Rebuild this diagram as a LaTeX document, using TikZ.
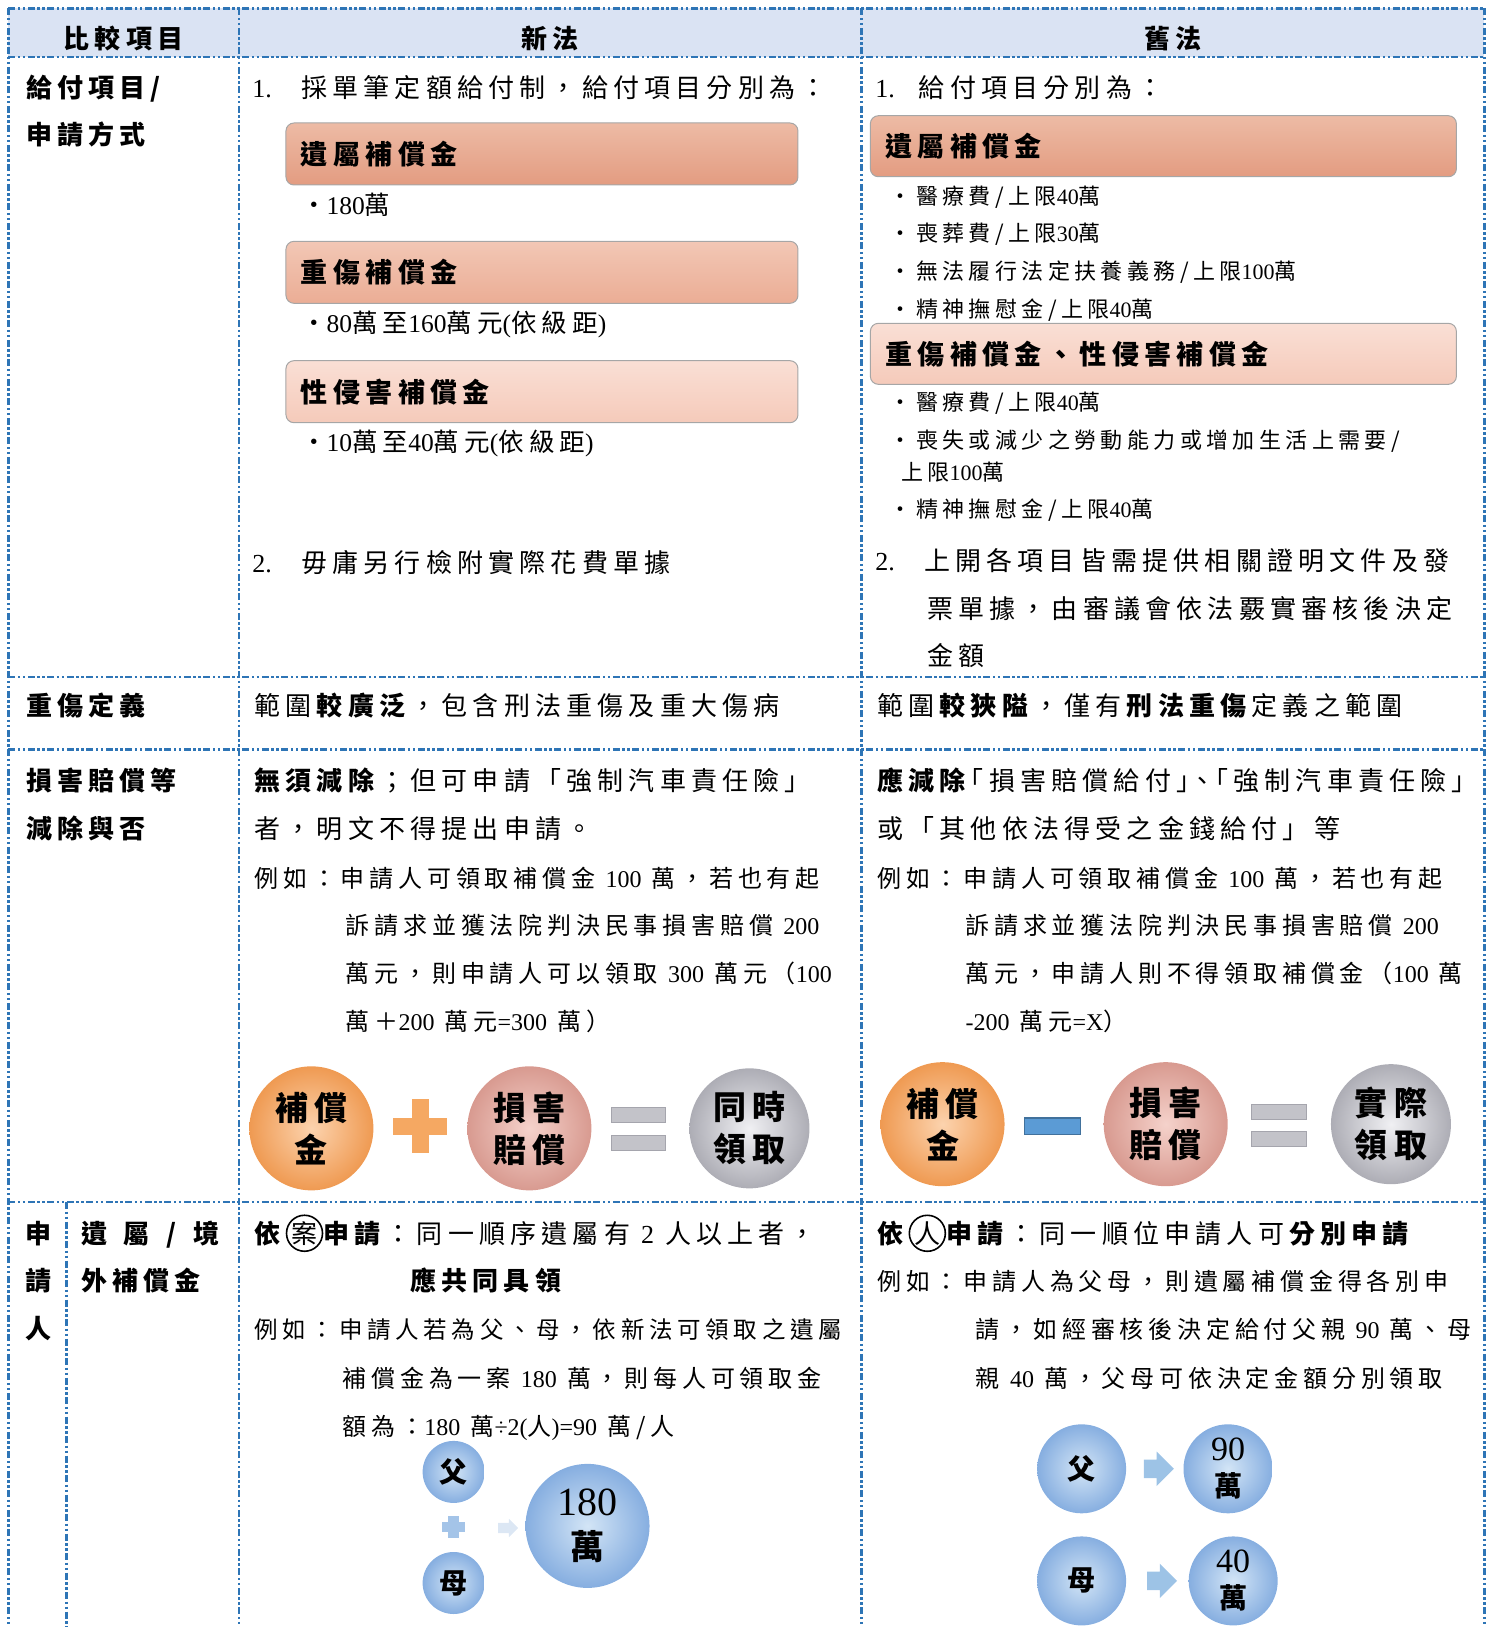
\documentclass[tikz,border=0pt]{standalone}
\usepackage{fontspec}
\setmainfont{Noto Sans CJK TC}[LetterSpace=20]
\newfontfamily\numfont{Liberation Serif}
\usepackage{tikz}
\usetikzlibrary{positioning,shapes.arrows}
\definecolor{gridblue}{HTML}{2E75B6}
\definecolor{headfill}{HTML}{DAE3F3}
\definecolor{boxline}{HTML}{A6A6A6}
\definecolor{salmonA}{HTML}{E39C81}
\definecolor{salmonAt}{HTML}{EDBBA5}
\definecolor{salmonB}{HTML}{EBAD95}
\definecolor{salmonBt}{HTML}{F2C7B5}
\definecolor{salmonC}{HTML}{F5CABA}
\definecolor{salmonCt}{HTML}{FADFD5}
\definecolor{ballorange}{HTML}{EF9A52}
\definecolor{ballorangein}{HTML}{FCD3AE}
\definecolor{ballpink}{HTML}{D89A90}
\definecolor{ballpinkin}{HTML}{F5D2CB}
\definecolor{ballgray}{HTML}{ADADB5}
\definecolor{ballgrayin}{HTML}{F0F0F3}
\definecolor{ballblue}{HTML}{86AEE0}
\definecolor{ballbluein}{HTML}{D3E5F6}
\definecolor{plusorange}{HTML}{F5A862}
\definecolor{eqgray}{HTML}{C3C3C9}
\definecolor{eqedge}{HTML}{A5A5AD}
\definecolor{minusblue}{HTML}{5B9BD5}
\definecolor{minusedge}{HTML}{41719C}
\definecolor{arrowblue}{HTML}{9DC3E6}
\definecolor{paleblue}{HTML}{DCE7F4}
\definecolor{plusblue}{HTML}{A4C4E8}

\newcommand\nm[1]{{\numfont #1}}
\newcommand\quan[1]{\tikz[baseline=(q.base)]\node (q) [circle, draw, line width=1.6pt, inner sep=0pt, minimum size=36pt] {#1};}

\tikzstyle{gridline} = [draw=gridblue, line width=2.4pt, dash pattern=on 7pt off 2.5pt on 2.5pt off 2.5pt on 2.5pt off 2.5pt]
\tikzstyle{txt} = [anchor=west, inner sep=0pt, text height=22pt, text depth=2pt, font=\fontsize{26}{30}\selectfont]
\tikzstyle{btxt} = [txt, font=\fontsize{26}{30}\selectfont\bfseries]
\tikzstyle{stxt} = [txt, font=\fontsize{24}{28}\selectfont]
\tikzstyle{bullet} = [txt, font=\fontsize{25.5}{28}\selectfont]
\tikzstyle{sbullet} = [txt, font=\fontsize{22}{26}\selectfont]
\tikzstyle{htxt} = [inner sep=0pt, text height=22pt, text depth=2pt, font=\fontsize{26}{30}\selectfont\bfseries]
\tikzstyle{itembox} = [rectangle, rounded corners=8pt, draw=boxline, line width=1pt, anchor=north west, inner xsep=15pt, align=left, font=\fontsize{27}{30}\selectfont\bfseries]
\tikzstyle{ball} = [circle, inner sep=0pt, align=center, font=\fontsize{33}{42}\selectfont\bfseries]
\tikzstyle{orangeball} = [ball, inner color=ballorangein, outer color=ballorange, minimum size=124pt]
\tikzstyle{pinkball} = [ball, inner color=ballpinkin, outer color=ballpink, minimum size=124pt]
\tikzstyle{grayball} = [ball, inner color=ballgrayin, outer color=ballgray, minimum size=120pt]
\tikzstyle{blueball} = [ball, inner color=ballbluein, outer color=ballblue, font=\fontsize{28}{36}\selectfont\bfseries]
\tikzstyle{blockarrow} = [single arrow, inner xsep=0pt, inner ysep=9pt, minimum height=30pt, single arrow head extend=8pt]

\begin{document}
\begin{tikzpicture}[x=1.038pt, y=-1.038pt]
\useasboundingbox (0,0) rectangle (1436.4,1567.4);
% header band and grid
\fill[headfill] (8,8) rectangle (1430,55);
\draw[gridline] (8,8) -- (1430,8);
\draw[gridline] (8,55) -- (1430,55);
\draw[gridline] (8,652) -- (1430,652);
\draw[gridline] (8,722) -- (1430,722);
\draw[gridline] (8,1158) -- (1430,1158);
\draw[gridline] (8,8) -- (8,1567.4);
\draw[gridline] (230,8) -- (230,1567.4);
\draw[gridline] (830,8) -- (830,1567.4);
\draw[gridline] (1430,8) -- (1430,1567.4);
\draw[gridline] (64,1158) -- (64,1567.4);

\node (hitem) [htxt] at (119,37) {比較項目};
\node (hnew) [htxt] at (530,37) {新法};
\node (hold) [htxt] at (1130,37) {舊法};

% row 1
\node (r1a) [btxt] at (25,84) {給付項目/};
\node (r1b) [btxt] at (25,130) {申請方式};

\node (n1num) [txt] at (243,84) {\nm{1.}};
\node (n1txt) [txt] at (290,84) {採單筆定額給付制，給付項目分別為：};
\node (nbox1) [itembox, top color=salmonAt, bottom color=salmonA, text width=482pt, minimum height=62pt] at (275,118) {遺屬補償金};
\node (nb1) [bullet] at (290,197) {・\nm{180}萬};
\node (nbox2) [itembox, top color=salmonBt, bottom color=salmonB, text width=482pt, minimum height=62pt] at (275,232) {重傷補償金};
\node (nb2) [bullet] at (290,311) {・\nm{80}萬至\nm{160}萬元\nm{(}依級距\nm{)}};
\node (nbox3) [itembox, top color=salmonCt, bottom color=salmonC, text width=482pt, minimum height=62pt] at (275,347) {性侵害補償金};
\node (nb3) [bullet] at (290,425) {・\nm{10}萬至\nm{40}萬元\nm{(}依級距\nm{)}};
\node (n2num) [txt] at (243,542) {\nm{2.}};
\node (n2txt) [txt] at (290,542) {毋庸另行檢附實際花費單據};

\node (o1num) [txt] at (843,84) {\nm{1.}};
\node (o1txt) [txt] at (885,84) {給付項目分別為：};
\node (obox1) [itembox, top color=salmonAt, bottom color=salmonA, text width=556pt, minimum height=61pt] at (838,111) {遺屬補償金};
\node (ob1) [sbullet] at (857,187) {・醫療費/上限\nm{40}萬};
\node (ob2) [sbullet] at (857,223) {・喪葬費/上限\nm{30}萬};
\node (ob3) [sbullet] at (857,260) {・無法履行法定扶養義務/上限\nm{100}萬};
\node (ob4) [sbullet] at (857,296) {・精神撫慰金/上限\nm{40}萬};
\node (obox2) [itembox, top color=salmonCt, bottom color=salmonC, text width=556pt, minimum height=61pt] at (838,311) {重傷補償金、性侵害補償金};
\node (ob5) [sbullet] at (857,386) {・醫療費/上限\nm{40}萬};
\node (ob6) [sbullet] at (857,422) {・喪失或減少之勞動能力或增加生活上需要/};
\node (ob6b) [sbullet] at (868,453) {上限\nm{100}萬};
\node (ob7) [sbullet] at (857,489) {・精神撫慰金/上限\nm{40}萬};
\node (o2num) [txt] at (843,540) {\nm{2.}};
\node (o2a) [txt] at (890,540) {上開各項目皆需提供相關證明文件及發};
\node (o2b) [txt] at (893,586) {票單據，由審議會依法覈實審核後決定};
\node (o2c) [txt] at (893,631) {金額};

% row 2
\node (r2) [btxt] at (25,680) {重傷定義};
\node (n3) [txt] at (245,680) {範圍\textbf{較廣泛}，包含刑法重傷及重大傷病};
\node (o3) [txt] at (845,680) {範圍\textbf{較狹隘}，僅有\textbf{刑法重傷}定義之範圍};

% row 3
\node (r3a) [btxt] at (25,752) {損害賠償等};
\node (r3b) [btxt] at (25,798) {減除與否};
\node (n4a) [txt] at (245,752) {\textbf{無須減除}；但可申請「強制汽車責任險」};
\node (n4b) [txt] at (245,798) {者，明文不得提出申請。};
\node (n4c) [stxt] at (245,845) {例如：申請人可領取補償金 \nm{100} 萬，若也有起};
\node (n4d) [stxt] at (333,891) {訴請求並獲法院判決民事損害賠償 \nm{200}};
\node (n4e) [stxt] at (333,937) {萬元，則申請人可以領取 \nm{300} 萬元（\nm{100}};
\node (n4f) [stxt] at (333,983) {萬＋\nm{200} 萬元\nm{=300} 萬）};

\node (o4a) [txt] at (845,752) {\textbf{應減除}\kern-13pt「損害賠償給付」\kern-13pt、\kern-13pt「強制汽車責任險」};
\node (o4b) [txt] at (845,798) {或「其他依法得受之金錢給付」等};
\node (o4c) [stxt] at (845,845) {例如：申請人可領取補償金 \nm{100} 萬，若也有起};
\node (o4d) [stxt] at (930,891) {訴請求並獲法院判決民事損害賠償 \nm{200}};
\node (o4e) [stxt] at (930,937) {萬元，申請人則不得領取補償金（\nm{100} 萬};
\node (o4f) [stxt] at (930,983) {\nm{-200} 萬元\nm{=X}）};

\node (nball1) [orangeball] at (300,1087) {補償\\金};
\fill[plusorange] (379,1077) rectangle (431,1093);
\fill[plusorange] (397,1059) rectangle (413,1111);
\node (nball2) [pinkball] at (510,1087) {損害\\賠償};
\filldraw[fill=eqgray, draw=eqedge] (589,1067) rectangle (641,1081);
\filldraw[fill=eqgray, draw=eqedge] (589,1094) rectangle (641,1108);
\node (nball3) [grayball] at (722,1087) {同時\\領取};

\node (oball1) [orangeball] at (908,1083) {補償\\金};
\filldraw[fill=minusblue, draw=minusedge, line width=1.2pt] (987,1077) rectangle (1041,1093);
\node (oball2) [pinkball] at (1123,1083) {損害\\賠償};
\filldraw[fill=eqgray, draw=eqedge] (1205,1064) rectangle (1258,1078);
\filldraw[fill=eqgray, draw=eqedge] (1205,1090) rectangle (1258,1104);
\node (oball3) [grayball] at (1340,1083) {實際\\領取};

% row 4
\node (r4a) [htxt] at (37,1188) {申};
\node (r4b) [htxt] at (37,1234) {請};
\node (r4c) [htxt] at (37,1280) {人};
\node (r4d) [btxt] at (78,1188) {\makebox[138pt][s]{遺\hfill 屬\hfill /\hfill 境}};
\node (r4e) [btxt] at (78,1234) {外補償金};

\node (n5a) [txt] at (245,1188) {\textbf{依}\quan{案}\textbf{申請}：同一順序遺屬有 \nm{2} 人以上者，};
\node (n5b) [htxt] at (468,1234) {應共同具領};
\node (n5c) [stxt, font=\fontsize{23.5}{28}\selectfont] at (245,1280) {例如：申請人若為父、母，依新法可領取之遺屬};
\node (n5d) [stxt] at (330,1327) {補償金為一案 \nm{180} 萬，則每人可領取金};
\node (n5e) [stxt] at (330,1373) {額為：\nm{180} 萬\nm{÷2(}人\nm{)=90} 萬/人};

\node (nfa) [blueball, minimum size=62pt] at (437,1418) {父};
\node (nmo) [blueball, minimum size=62pt] at (437,1525) {母};
\fill[plusblue] (426,1466) rectangle (448,1476);
\fill[plusblue] (432,1460) rectangle (442,1482);
\node (narr) [blockarrow, fill=paleblue, inner ysep=5pt, minimum height=20pt, single arrow head extend=4pt] at (487,1472) {};
\node (nsum) [blueball, minimum size=124pt, font=\fontsize{34}{44}\selectfont\bfseries] at (566,1470) {{\fontsize{40}{44}\selectfont\numfont\mdseries 180}\\萬};

\node (o5a) [txt] at (845,1188) {\textbf{依}\quan{人}\textbf{申請}：同一順位申請人可\textbf{分別申請}};
\node (o5b) [stxt] at (845,1234) {例如：申請人為父母，則遺屬補償金得各別申};
\node (o5c) [stxt] at (940,1280) {請，如經審核後決定給付父親 \nm{90} 萬、母};
\node (o5d) [stxt] at (940,1327) {親 \nm{40} 萬，父母可依決定金額分別領取};

\node (ofa) [blueball, minimum size=89pt] at (1042,1415) {父};
\node (oarr1) [blockarrow, fill=arrowblue] at (1112,1415) {};
\node (ofa2) [blueball, minimum size=89pt] at (1183,1415) {{\fontsize{34}{36}\selectfont\numfont\mdseries 90}\\萬};
\node (omo) [blueball, minimum size=89pt] at (1042,1523) {母};
\node (oarr2) [blockarrow, fill=arrowblue] at (1115,1523) {};
\node (omo2) [blueball, minimum size=89pt] at (1188,1523) {{\fontsize{34}{36}\selectfont\numfont\mdseries 40}\\萬};
\end{tikzpicture}
\end{document}
